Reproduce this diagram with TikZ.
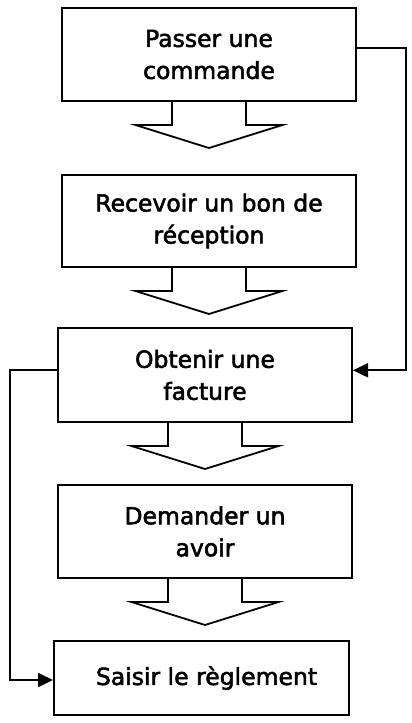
\documentclass[tikz,border=0pt]{standalone}
\usepackage{fontspec}
\setmainfont{DejaVu Sans}
\newfontfamily\lblfont{DejaVu Sans}[FakeBold=2.2]
\usetikzlibrary{arrows.meta,calc}
\begin{document}
\begin{tikzpicture}[x=1pt,y=-1pt,
  stepbox/.style={draw=black,line width=2pt,rectangle,minimum width=294pt,inner sep=0pt,align=center,
    font=\lblfont\fontsize{23.5}{32}\selectfont},
  blockarrow/.style={draw=black,line width=1.8pt,line join=miter},
  link/.style={draw=black,line width=2pt,-{Triangle[length=15pt,width=14pt]}}]
\useasboundingbox (0,0) rectangle (412,723);
\node[stepbox,minimum height=93pt] (b1) at (209,54.5) {Passer une\\commande};
\node[stepbox,minimum height=92pt] (b2) at (209,221) {Recevoir un bon de\\réception};
\node[stepbox,minimum height=94pt] (b3) at (205,375) {Obtenir une\\facture};
\node[stepbox,minimum height=93pt] (b4) at (205,531.5) {Demander un\\avoir};
\node[stepbox,minimum height=74pt,minimum width=295pt] (b5) at (201.5,678) {\hspace*{10pt}Saisir le règlement};
% block arrows
\foreach \n in {b1,b2,b3,b4}{
  \draw[blockarrow] ($(\n.south)+(-37,0)$) -- ++(0,23) -- ++(-36.5,0) -- ++(73.5,23) -- ++(73.5,-23) -- ++(-36.5,0) -- ++(0,-23);
}
% connectors
\coordinate (r1) at (406,47.7);
\coordinate (r2) at (406,370.3);
\coordinate (l1) at (10.3,370.3);
\coordinate (l2) at (10.3,680);
\draw[link] ($(b1.east)+(0,-6.8)$) -- (r1) -- (r2) -- ($(b3.east)+(0,-4.7)$);
\draw[link] ($(b3.west)+(0,-4.7)$) -- (l1) -- (l2) -- ($(b5.west)+(0,2)$);
\end{tikzpicture}
\end{document}
